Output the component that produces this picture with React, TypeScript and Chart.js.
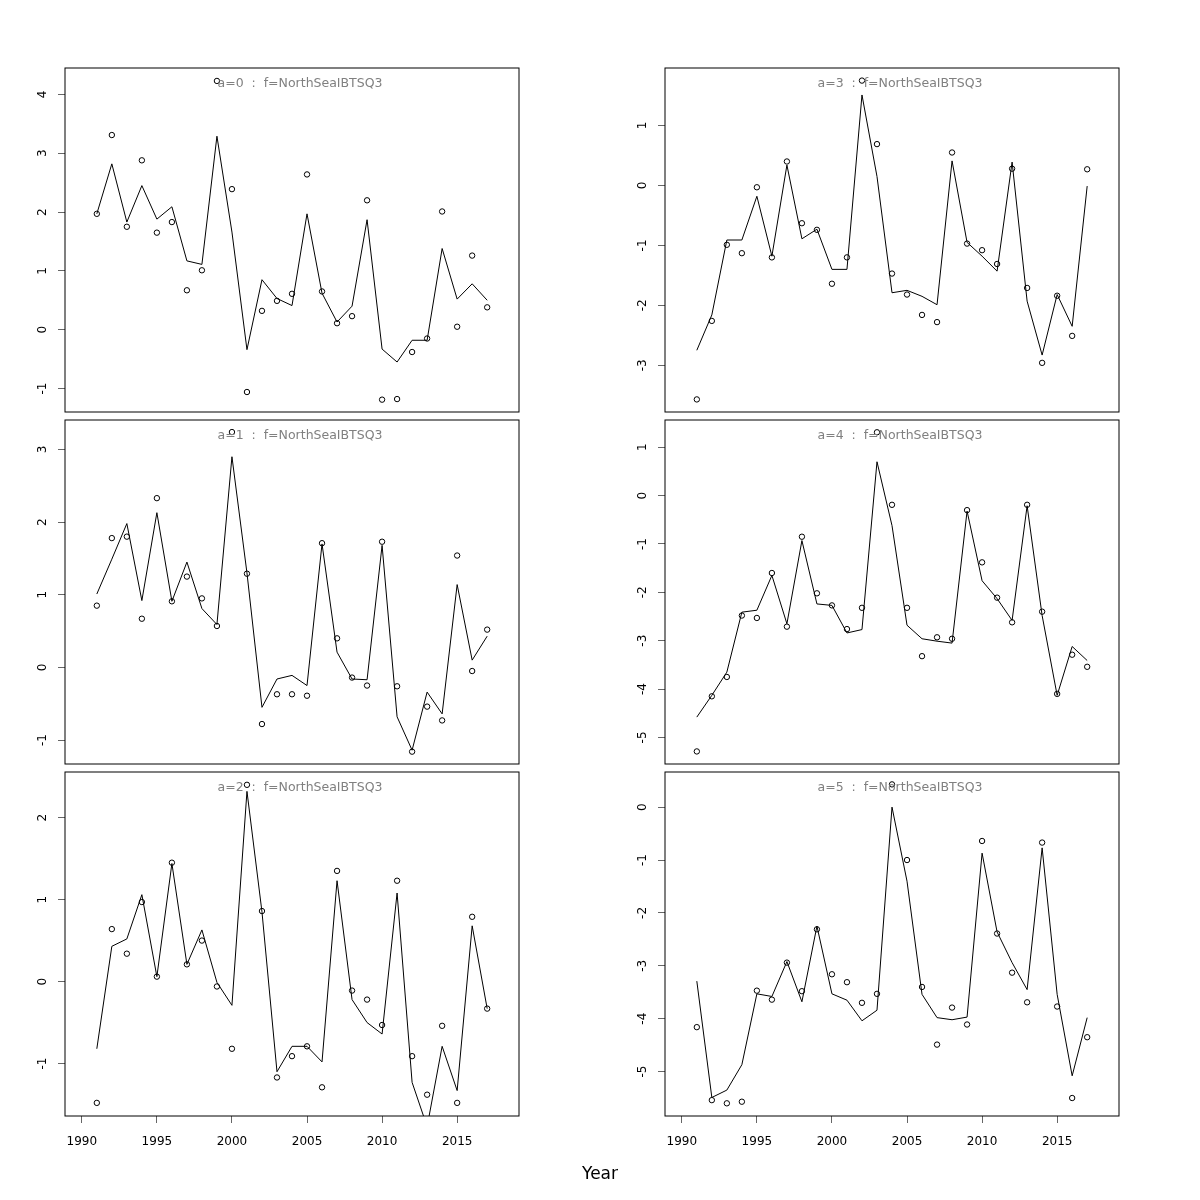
import React, { useEffect, useRef } from "react";
import { Chart, registerables } from "chart.js";

Chart.register(...registerables);

const years = [1991, 1992, 1993, 1994, 1995, 1996, 1997, 1998, 1999, 2000, 2001, 2002, 2003, 2004, 2005, 2006, 2007, 2008, 2009, 2010, 2011, 2012, 2013, 2014, 2015, 2016, 2017];
const xTickValues = [1990, 1995, 2000, 2005, 2010, 2015];
const xMin = 1988.88;
const xMax = 2019.12;

const obsA0 = [1.97, 3.31, 1.75, 2.88, 1.65, 1.83, 0.67, 1.01, 4.23, 2.39, -1.06, 0.32, 0.49, 0.61, 2.64, 0.65, 0.11, 0.23, 2.20, -1.19, -1.18, -0.38, -0.15, 2.01, 0.05, 1.26, 0.38];
const fitA0 = [1.97, 2.82, 1.83, 2.45, 1.88, 2.09, 1.17, 1.11, 3.29, 1.66, -0.34, 0.85, 0.53, 0.41, 1.97, 0.62, 0.13, 0.40, 1.87, -0.33, -0.55, -0.18, -0.18, 1.38, 0.52, 0.78, 0.50];
const yTicksA0 = [-1, 0, 1, 2, 3, 4];
const yLimA0 = [-1.40, 4.45];

const obsA1 = [0.85, 1.78, 1.80, 0.67, 2.33, 0.91, 1.25, 0.95, 0.57, 3.24, 1.29, -0.78, -0.37, -0.37, -0.39, 1.71, 0.40, -0.14, -0.25, 1.73, -0.26, -1.16, -0.54, -0.73, 1.54, -0.05, 0.52];
const fitA1 = [1.01, 1.49, 1.98, 0.92, 2.13, 0.91, 1.45, 0.81, 0.59, 2.90, 1.30, -0.55, -0.16, -0.11, -0.25, 1.70, 0.21, -0.16, -0.17, 1.68, -0.68, -1.14, -0.34, -0.64, 1.14, 0.10, 0.43];
const yTicksA1 = [-1, 0, 1, 2, 3];
const yLimA1 = [-1.33, 3.41];

const obsA2 = [-1.48, 0.64, 0.34, 0.97, 0.06, 1.45, 0.21, 0.50, -0.06, -0.82, 2.40, 0.86, -1.17, -0.91, -0.79, -1.29, 1.35, -0.11, -0.22, -0.53, 1.23, -0.91, -1.38, -0.54, -1.48, 0.79, -0.33];
const fitA2 = [-0.82, 0.43, 0.52, 1.06, 0.06, 1.44, 0.21, 0.63, -0.01, -0.29, 2.32, 0.85, -1.10, -0.79, -0.79, -0.98, 1.23, -0.22, -0.50, -0.64, 1.08, -1.23, -1.77, -0.79, -1.33, 0.68, -0.33];
const yTicksA2 = [-1, 0, 1, 2];
const yLimA2 = [-1.64, 2.56];

const obsA3 = [-3.57, -2.26, -0.99, -1.13, -0.03, -1.20, 0.40, -0.63, -0.74, -1.64, -1.20, 1.75, 0.69, -1.47, -1.82, -2.16, -2.28, 0.55, -0.97, -1.08, -1.31, 0.28, -1.71, -2.96, -1.84, -2.51, 0.27];
const fitA3 = [-2.75, -2.16, -0.91, -0.91, -0.18, -1.18, 0.34, -0.89, -0.73, -1.40, -1.40, 1.51, 0.15, -1.79, -1.75, -1.85, -1.99, 0.41, -0.95, -1.18, -1.43, 0.39, -1.93, -2.83, -1.82, -2.35, -0.01];
const yTicksA3 = [-3, -2, -1, 0, 1];
const yLimA3 = [-3.78, 1.96];

const obsA4 = [-5.29, -4.15, -3.75, -2.48, -2.53, -1.60, -2.71, -0.85, -2.02, -2.27, -2.76, -2.32, 1.31, -0.19, -2.32, -3.32, -2.93, -2.96, -0.30, -1.38, -2.11, -2.62, -0.19, -2.40, -4.10, -3.29, -3.54];
const fitA4 = [-4.58, -4.13, -3.65, -2.41, -2.37, -1.65, -2.65, -0.93, -2.24, -2.27, -2.84, -2.77, 0.70, -0.62, -2.68, -2.96, -3.01, -3.05, -0.32, -1.76, -2.13, -2.58, -0.21, -2.48, -4.13, -3.12, -3.41];
const yTicksA4 = [-5, -4, -3, -2, -1, 0, 1];
const yLimA4 = [-5.55, 1.57];

const obsA5 = [-4.16, -5.54, -5.60, -5.57, -3.47, -3.64, -2.94, -3.48, -2.31, -3.16, -3.31, -3.70, -3.53, 0.43, -1.00, -3.40, -4.49, -3.79, -4.11, -0.64, -2.39, -3.13, -3.69, -0.67, -3.77, -5.50, -4.35];
const fitA5 = [-3.29, -5.49, -5.35, -4.87, -3.53, -3.58, -2.92, -3.68, -2.25, -3.53, -3.65, -4.04, -3.84, 0.00, -1.40, -3.54, -3.98, -4.02, -3.97, -0.87, -2.36, -2.94, -3.45, -0.77, -3.54, -5.08, -3.98];
const yTicksA5 = [-5, -4, -3, -2, -1, 0];
const yLimA5 = [-5.84, 0.67];

const panelTitles = [
  "a=0  :  f=NorthSeaIBTSQ3",
  "a=1  :  f=NorthSeaIBTSQ3",
  "a=2  :  f=NorthSeaIBTSQ3",
  "a=3  :  f=NorthSeaIBTSQ3",
  "a=4  :  f=NorthSeaIBTSQ3",
  "a=5  :  f=NorthSeaIBTSQ3",
];
const xAxisTitle = "Year";

const FONT = "'DejaVu Sans', sans-serif";

type PanelProps = {
  title: string;
  obs: number[];
  fit: number[];
  yTicks: number[];
  yLim: number[];
  col: number;
  row: number;
};

// layout per row: canvas top, canvas height, padding top, padding bottom
const ROWS = [
  { top: 0, height: 416, padTop: 68, padBottom: 4 },
  { top: 416, height: 352, padTop: 3, padBottom: 4 },
  { top: 768, height: 432, padTop: 3, padBottom: 44 },
];

function Panel({ title, obs, fit, yTicks, yLim, col, row }: PanelProps) {
  const ref = useRef<HTMLCanvasElement | null>(null);
  const r = ROWS[row];
  const showX = row === 2;
  useEffect(() => {
    if (!ref.current) return;
    const boxPlugin = {
      id: "boxAndTitle" + col + row,
      afterDraw(chart: any) {
        const { ctx, chartArea } = chart;
        const l = Math.round(chartArea.left);
        const t = Math.round(chartArea.top);
        const rr = Math.round(chartArea.right);
        const b = Math.round(chartArea.bottom);
        ctx.save();
        ctx.strokeStyle = "#000";
        ctx.lineWidth = 1;
        ctx.strokeRect(l, t, rr - l, b - t);
        ctx.fillStyle = "#808080";
        ctx.font = "12.5px " + FONT;
        ctx.textAlign = "center";
        ctx.textBaseline = "middle";
        ctx.fillText(title, (l + rr) / 2 + 8, t + 16);
        ctx.restore();
      },
    };
    const tickGrid = {
      display: true,
      drawOnChartArea: false,
      drawTicks: true,
      tickLength: 7,
      color: "#666",
      lineWidth: 1,
    };
    const chart = new Chart(ref.current, {
      type: "line",
      data: {
        datasets: [
          {
            label: "fit",
            data: years.map((x, i) => ({ x, y: fit[i] })),
            borderColor: "#000",
            borderWidth: 1,
            pointRadius: 0,
            pointHoverRadius: 0,
            tension: 0,
            fill: false,
          },
          {
            label: "obs",
            data: years.map((x, i) => ({ x, y: obs[i] })),
            showLine: false,
            borderColor: "#000",
            backgroundColor: "rgba(0,0,0,0)",
            borderWidth: 1,
            pointRadius: 2.7,
            pointHoverRadius: 2.7,
            pointStyle: "circle",
          },
        ],
      },
      options: {
        animation: false,
        responsive: false,
        events: [],
        layout: { padding: { left: 0, right: 81, top: r.padTop, bottom: r.padBottom } },
        plugins: {
          legend: { display: false },
          tooltip: { enabled: false },
          title: { display: false },
        },
        scales: {
          x: {
            type: "linear",
            min: xMin,
            max: xMax,
            display: showX,
            position: "bottom",
            afterBuildTicks: (s: any) => {
              s.ticks = xTickValues.map((v) => ({ value: v }));
            },
            afterFit: (s: any) => {
              s.height = showX ? 40 : 0;
              s.paddingLeft = 0;
              s.paddingRight = 0;
              s.paddingTop = 0;
              s.paddingBottom = 0;
            },
            grid: tickGrid,
            border: { display: false },
            ticks: {
              autoSkip: false,
              minRotation: 0,
              maxRotation: 0,
              padding: 12,
              color: "#000",
              font: { family: FONT, size: 12 },
              callback: (v: any) => String(v),
            },
          },
          y: {
            type: "linear",
            min: yLim[0],
            max: yLim[1],
            position: "left",
            afterBuildTicks: (s: any) => {
              s.ticks = yTicks.map((v) => ({ value: v }));
            },
            afterFit: (s: any) => {
              s.width = 65;
              s.paddingTop = 0;
              s.paddingBottom = 0;
              s.paddingLeft = 0;
              s.paddingRight = 0;
            },
            grid: tickGrid,
            border: { display: false },
            ticks: {
              autoSkip: false,
              minRotation: 90,
              maxRotation: 90,
              crossAlign: "center",
              padding: 9,
              color: "#000",
              font: { family: FONT, size: 12 },
              callback: (v: any) => String(v),
            },
          },
        },
      } as any,
      plugins: [boxPlugin],
    });
    return () => chart.destroy();
  }, []);
  return (
    <canvas
      ref={ref}
      width={600}
      height={r.height}
      style={{ position: "absolute", left: col * 600, top: r.top, width: 600, height: r.height }}
    />
  );
}

export default function App() {
  return (
    <div style={{ position: "absolute", left: 0, top: 0, width: 1200, height: 1200, background: "#fff", overflow: "hidden" }}>
      <Panel title={panelTitles[0]} obs={obsA0} fit={fitA0} yTicks={yTicksA0} yLim={yLimA0} col={0} row={0} />
      <Panel title={panelTitles[1]} obs={obsA1} fit={fitA1} yTicks={yTicksA1} yLim={yLimA1} col={0} row={1} />
      <Panel title={panelTitles[2]} obs={obsA2} fit={fitA2} yTicks={yTicksA2} yLim={yLimA2} col={0} row={2} />
      <Panel title={panelTitles[3]} obs={obsA3} fit={fitA3} yTicks={yTicksA3} yLim={yLimA3} col={1} row={0} />
      <Panel title={panelTitles[4]} obs={obsA4} fit={fitA4} yTicks={yTicksA4} yLim={yLimA4} col={1} row={1} />
      <Panel title={panelTitles[5]} obs={obsA5} fit={fitA5} yTicks={yTicksA5} yLim={yLimA5} col={1} row={2} />
      <div
        style={{
          position: "absolute",
          left: 0,
          top: 1163,
          width: 1200,
          textAlign: "center",
          fontFamily: FONT,
          fontSize: 17,
          lineHeight: "20px",
          color: "#000",
        }}
      >
        {xAxisTitle}
      </div>
    </div>
  );
}
